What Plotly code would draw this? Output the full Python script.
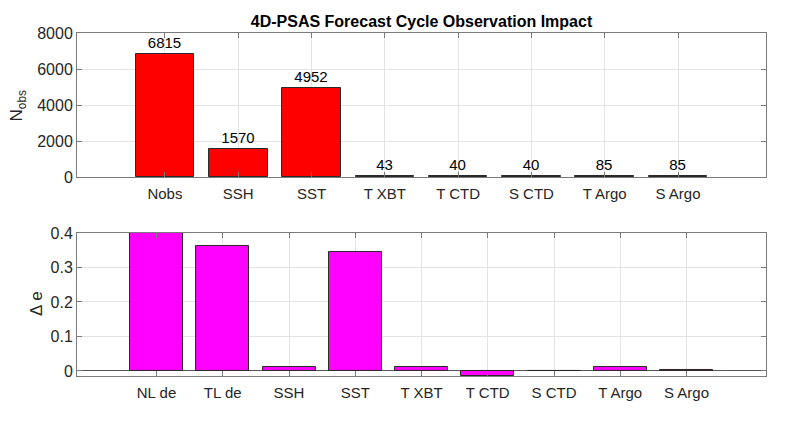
import plotly.graph_objects as go
from plotly.subplots import make_subplots

# top panel: observation counts
obs_labels = ["Nobs", "SSH", "SST", "T XBT", "T CTD", "S CTD", "T Argo", "S Argo"]
obs_counts = [6815, 1570, 4952, 43, 40, 40, 85, 85]

# bottom panel: impact on error
imp_labels = ["NL de", "TL de", "SSH", "SST", "T XBT", "T CTD", "S CTD", "T Argo", "S Argo"]
imp_values = [0.399, 0.362, 0.012, 0.346, 0.011, -0.014, -0.001, 0.011, 0.004]

FONT = "Liberation Sans, Arial, Helvetica, sans-serif"
AX = "#7a7a7a"
GRID = "#e3e3e3"

fig = make_subplots(rows=2, cols=1, vertical_spacing=0.16)

x1 = list(range(1, len(obs_labels) + 1))
x2 = list(range(1, len(imp_labels) + 1))

fig.add_trace(go.Bar(
    x=x1, y=obs_counts, width=0.8,
    marker=dict(color="#ff0000", line=dict(color="#2a2a2a", width=1)),
    text=[str(v) for v in obs_counts], textposition="outside",
    textfont=dict(size=15, color="black", family=FONT),
    cliponaxis=False, showlegend=False,
), row=1, col=1)

fig.add_trace(go.Bar(
    x=x2, y=imp_values, width=0.8,
    marker=dict(color="#ff00ff", line=dict(color="#2a2a2a", width=1)),
    showlegend=False,
), row=2, col=1)

axis_common = dict(
    showline=True, linecolor=AX, linewidth=1, mirror="ticks",
    ticks="inside", ticklen=5, tickcolor=AX,
    showgrid=True, gridcolor=GRID, automargin=False,
    tickfont=dict(size=15, color="#262626", family=FONT),
)

fig.update_xaxes(axis_common)
fig.update_xaxes(ticklabelstandoff=3)
fig.update_yaxes(axis_common)
fig.update_yaxes(tickfont=dict(size=16, color="#262626", family=FONT))

fig.update_xaxes(range=[-0.2, 9.2], tickmode="array", tickvals=x1,
                 ticktext=obs_labels, row=1, col=1)
fig.update_xaxes(range=[-0.2, 10.2], tickmode="array", tickvals=x2,
                 ticktext=imp_labels, row=2, col=1)

fig.update_yaxes(range=[0, 8000], dtick=2000, zeroline=False, row=1, col=1)
fig.update_yaxes(range=[-0.0145, 0.4], dtick=0.1, tickformat="~g",
                 zeroline=True, zerolinecolor="#555555", zerolinewidth=1,
                 row=2, col=1)

# the page adds an 8px body margin, so margins are trimmed to match
fig.update_layout(
    width=800, height=431,
    margin=dict(l=69, r=42, t=25, b=63),
    plot_bgcolor="white", paper_bgcolor="white",
    font=dict(family=FONT, color="#262626"),
    bargap=0,
    title=dict(text="<b>4D-PSAS Forecast Cycle Observation Impact</b>",
               x=0.5, xref="paper", xanchor="center", y=0.982, yanchor="top",
               font=dict(size=16, color="black", family=FONT)),
)

# place the two panels where the reference has them
fig.layout.yaxis.domain = [0.58, 1.0]
fig.layout.yaxis2.domain = [0.0, 0.417]

# y-axis titles, rotated, next to the tick labels
fig.add_annotation(text="N<sub>obs</sub>", xref="paper", yref="paper",
                   x=-0.085, y=0.79, xanchor="center", yanchor="middle",
                   textangle=-90, showarrow=False,
                   font=dict(size=17, color="#262626", family=FONT))
fig.add_annotation(text="Δ e", xref="paper", yref="paper",
                   x=-0.058, y=0.21, xanchor="center", yanchor="middle",
                   textangle=-90, showarrow=False,
                   font=dict(size=17, color="#262626", family=FONT))

fig.write_html("out.html")
